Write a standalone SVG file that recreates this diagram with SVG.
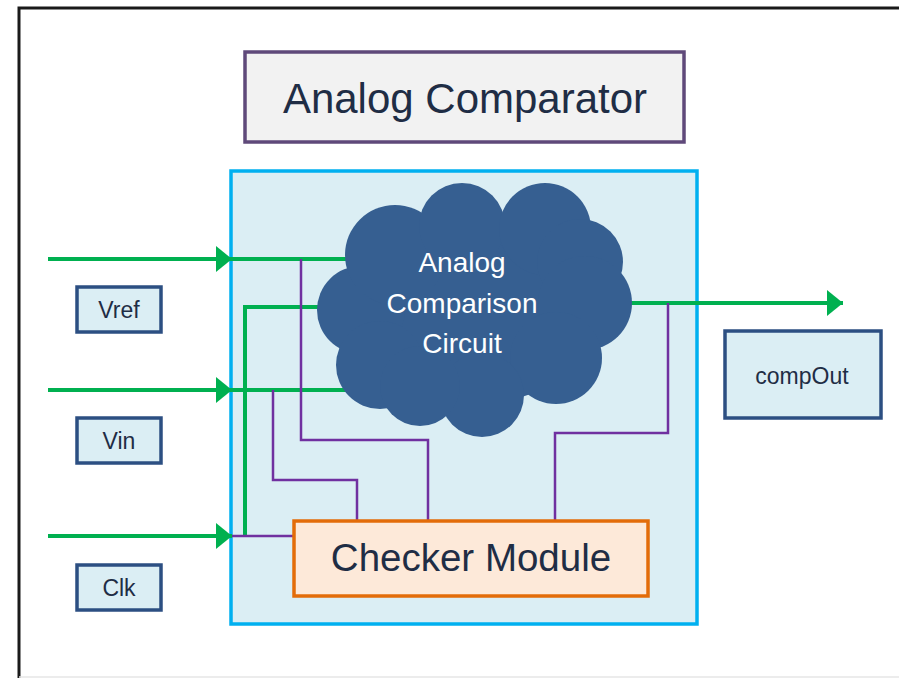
<svg xmlns="http://www.w3.org/2000/svg" width="899" height="678" viewBox="0 0 899 678">
<defs>
<style>
.txt{font-family:"Liberation Sans",Arial,sans-serif;fill:#1f2d45;text-anchor:middle}
.pin{fill:#dbeef4;stroke:#2c4f82;stroke-width:3.5}
.green{fill:none;stroke:#00b050;stroke-width:4}
.purple{fill:none;stroke:#7030a0;stroke-width:2.5}
.cloud{fill:#365f91}
</style>
<marker id="arr" markerUnits="userSpaceOnUse" markerWidth="18" markerHeight="26" refX="16" refY="13" orient="auto">
<path d="M0,0 L16,13 L0,26 Z" fill="#00b050"/>
</marker>
</defs>
<rect width="899" height="678" fill="#ffffff"/>
<path d="M19,678 V8 H899" fill="none" stroke="#1a1a1a" stroke-width="3"/>
<line x1="19" y1="677" x2="899" y2="677" stroke="#e6e6e6" stroke-width="1.5"/>

<g id="title">
<rect x="245" y="52" width="439" height="90" fill="#f2f2f2" stroke="#5f497a" stroke-width="3.5"/>
<text class="txt" x="465" y="113" font-size="42">Analog Comparator</text>
</g>

<g id="container">
<rect x="231" y="171" width="466" height="453" fill="#dbeef4" stroke="#00b0f0" stroke-width="3.5"/>
</g>

<g id="connectors">
<path class="green" d="M48,259 H232" marker-end="url(#arr)"/>
<path class="green" d="M232,259 H350"/>
<path class="green" d="M48,390 H232" marker-end="url(#arr)"/>
<path class="green" d="M232,390 H350"/>
<path class="green" d="M48,536 H232" marker-end="url(#arr)"/>
<path class="green" d="M245,536 V307 H322"/>
<path class="green" d="M628,303 H843" marker-end="url(#arr)"/>
<path class="purple" d="M232,536 H294"/>
<path class="purple" d="M301,259 V440 H428 V521"/>
<path class="purple" d="M273,390 V480 H357 V521"/>
<path class="purple" d="M668,303 V433 H555 V521"/>
</g>

<g id="cloud">
<ellipse class="cloud" cx="472" cy="312" rx="130" ry="92"/>
<circle class="cloud" cx="361" cy="310" r="44"/>
<circle class="cloud" cx="380" cy="365" r="44"/>
<circle class="cloud" cx="395" cy="255" r="50"/>
<circle class="cloud" cx="462" cy="226" r="43"/>
<circle class="cloud" cx="545" cy="229" r="46"/>
<circle class="cloud" cx="580" cy="262" r="43"/>
<circle class="cloud" cx="585" cy="303" r="47"/>
<circle class="cloud" cx="556" cy="358" r="46"/>
<circle class="cloud" cx="482" cy="395" r="42"/>
<circle class="cloud" cx="420" cy="386" r="40"/>
<text class="txt" x="462" y="272" font-size="28" style="fill:#ffffff">Analog</text>
<text class="txt" x="462" y="313" font-size="28" style="fill:#ffffff">Comparison</text>
<text class="txt" x="462" y="353" font-size="28" style="fill:#ffffff">Circuit</text>
</g>

<g id="checker">
<rect x="294" y="521" width="354" height="75" fill="#fde9d9" stroke="#e36c09" stroke-width="3.5"/>
<text class="txt" x="471" y="571" font-size="38.5">Checker Module</text>
</g>

<g id="vref">
<rect class="pin" x="77" y="287" width="84" height="45"/>
<text class="txt" x="119" y="318" font-size="23">Vref</text>
</g>
<g id="vin">
<rect class="pin" x="77" y="418" width="84" height="45"/>
<text class="txt" x="119" y="449" font-size="23">Vin</text>
</g>
<g id="clk">
<rect class="pin" x="77" y="565" width="84" height="45"/>
<text class="txt" x="119" y="596" font-size="23">Clk</text>
</g>
<g id="compout">
<rect class="pin" x="725" y="331" width="156" height="87"/>
<text class="txt" x="802" y="384" font-size="23">compOut</text>
</g>
</svg>
